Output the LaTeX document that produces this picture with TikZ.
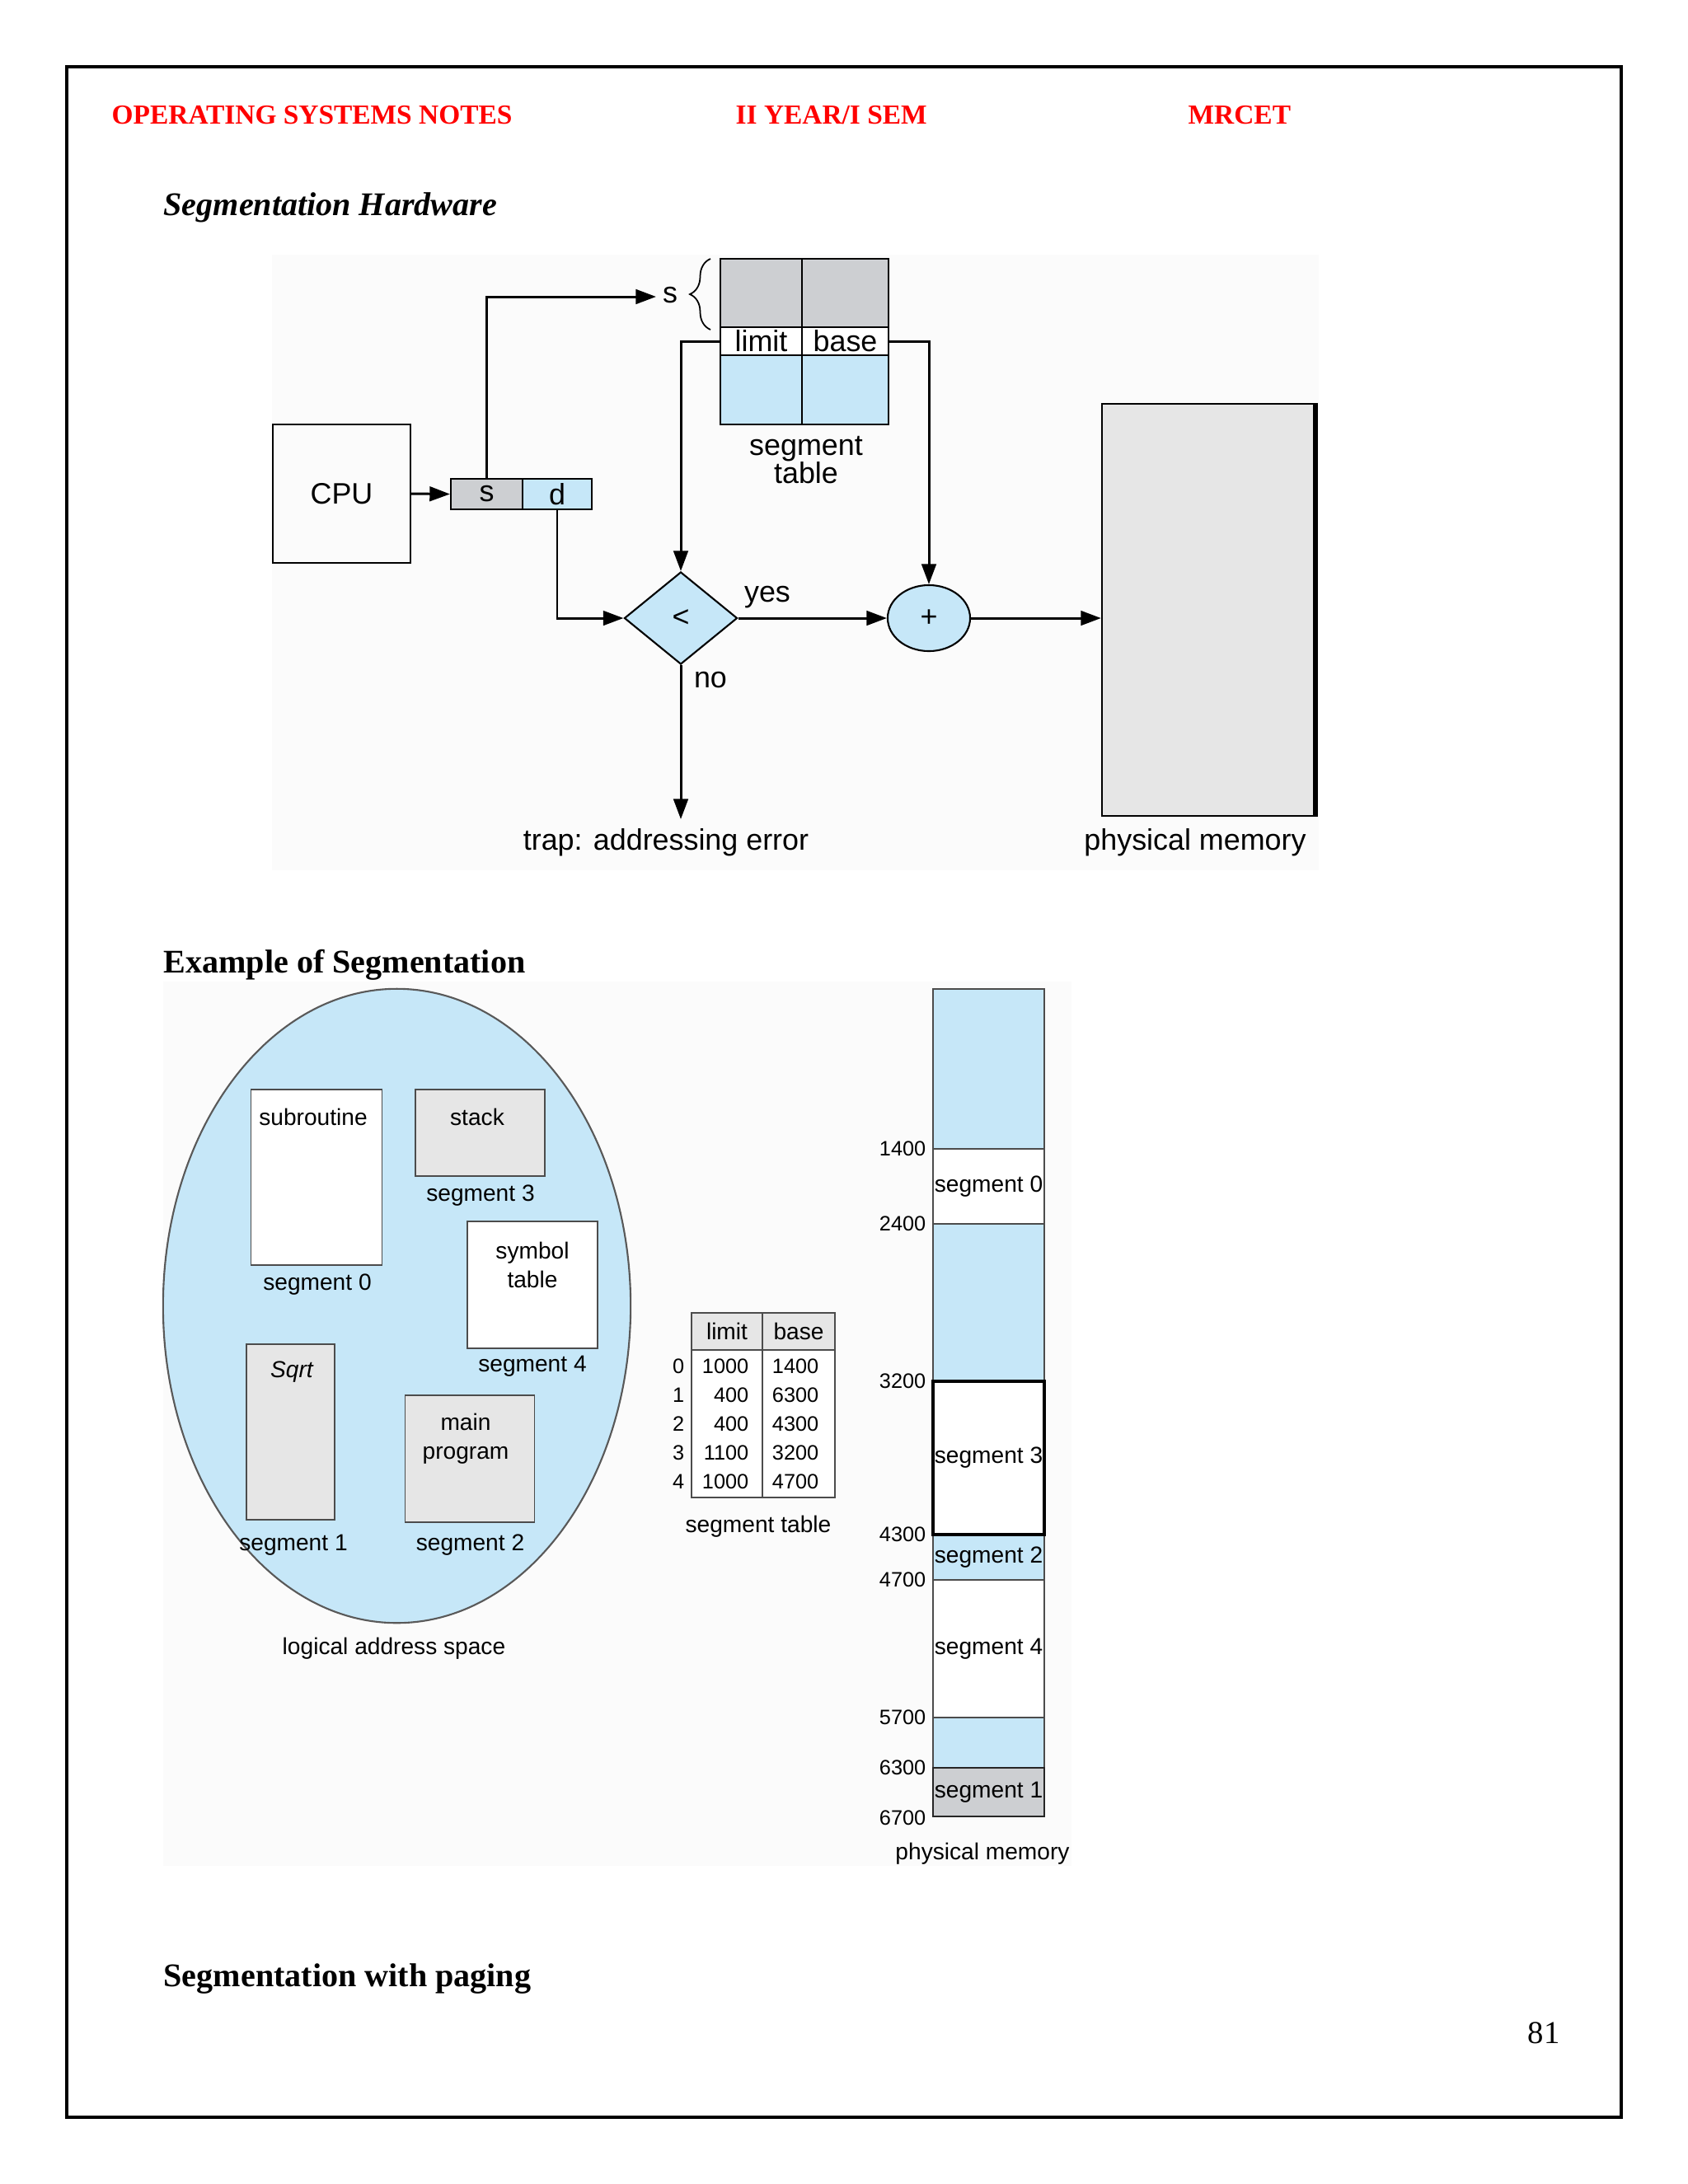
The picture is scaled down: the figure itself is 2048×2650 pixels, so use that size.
\documentclass[tikz,border=0pt]{standalone}
\usepackage{fontspec}
\setmainfont{Liberation Serif}
\newfontfamily\hv{Liberation Sans}
\usetikzlibrary{shapes.geometric,arrows.meta,decorations.pathreplacing}
\definecolor{lblue}{HTML}{C6E7F8}
\definecolor{tgray}{HTML}{CDCFD2}
\definecolor{mgray}{HTML}{E6E6E6}
\definecolor{hred}{HTML}{FF0000}
\begin{document}
\begin{tikzpicture}[x=0.01cm,y=-0.01cm,
  hdr/.style={inner sep=0,anchor=west,text=hred,font=\fontsize{9.5pt}{11pt}\selectfont\bfseries},
  head/.style={inner sep=0,anchor=west,font=\fontsize{11.4pt}{13pt}\selectfont\bfseries},
  headi/.style={inner sep=0,anchor=west,font=\fontsize{11.4pt}{13pt}\selectfont\bfseries\itshape},
  lab/.style={inner sep=0,font=\hv\fontsize{10.2pt}{9.8pt}\selectfont},
  slab/.style={inner sep=0,font=\hv\fontsize{8pt}{9.8pt}\selectfont},
  nlab/.style={inner sep=0,font=\hv\fontsize{7.2pt}{8.6pt}\selectfont},
  box/.style={draw,line width=0.6pt,inner sep=0,rectangle},
  sbox/.style={draw=black!70,line width=0.45pt,inner sep=0,rectangle},
  arr/.style={line width=0.85pt,-{Triangle[length=7pt,width=5pt]}},
]
\useasboundingbox (0,0) rectangle (2048,2650);
\fill[white] (0,0) rectangle (2048,2650);
\fill[black!1.5] (330,309) rectangle (1600,1056);
\fill[black!1.5] (198,1191) rectangle (1300,2264);
\draw[line width=0.9pt] (81,81) rectangle (1967,2569);

% header and headings
\node[hdr] (h1) at (135,140) {OPERATING SYSTEMS NOTES};
\node[hdr] (h2) at (892,140) {II YEAR/I SEM};
\node[hdr] (h3) at (1441,140) {MRCET};
\node[headi] (t1) at (198,252) {Segmentation Hardware};
\node[head] (t2) at (198,1171) {Example of Segmentation};
\node[head] (t3) at (198,2401) {Segmentation with paging};
\node[inner sep=0,font=\fontsize{11pt}{13pt}\selectfont] (pg) at (1873,2467) {81};

% ---------- segmentation hardware ----------
\node[box,lab,minimum width=1.67cm,minimum height=1.68cm] (cpu) at (414.5,599) {CPU};
\node[box,lab,fill=tgray,minimum width=0.87cm,minimum height=0.37cm] (sf) at (590.5,599.5) {s};
\node[box,lab,fill=lblue,minimum width=0.84cm,minimum height=0.37cm] (df) at (676,599.5) {d};
\draw[arr] (cpu.east) -- (sf.west);
\node[lab] (slab) at (813,358) {s};
\coordinate (sin) at (796,360);
\draw[arr] (sf.north) |- (sin);
\draw[decorate,decoration={brace,amplitude=0.25cm},line width=0.5pt] (862,400) -- (862,314);

\node[box,fill=tgray,minimum width=0.99cm,minimum height=0.83cm] (tg1) at (923.5,355.5) {};
\node[box,fill=tgray,minimum width=1.05cm,minimum height=0.83cm] (tg2) at (1025.5,355.5) {};
\node[box,lab,fill=white,minimum width=0.99cm,minimum height=0.34cm] (tlim) at (923.5,414) {limit};
\node[box,lab,fill=white,minimum width=1.05cm,minimum height=0.34cm] (tbase) at (1025.5,414) {base};
\node[box,fill=lblue,minimum width=0.99cm,minimum height=0.84cm] (tb1) at (923.5,473) {};
\node[box,fill=lblue,minimum width=1.05cm,minimum height=0.84cm] (tb2) at (1025.5,473) {};
\node[lab,align=center] (stl) at (978,558) {segment\\table};

\node[diamond,draw,line width=0.6pt,fill=lblue,minimum width=1.37cm,minimum height=1.12cm,inner sep=0,lab] (cmp) at (826,750) {<};
\draw[arr] (tlim.west) -| (cmp.north);
\draw[arr] (df.south) |- (cmp.west);
\node[ellipse,draw,line width=0.6pt,fill=lblue,minimum width=1.0cm,minimum height=0.8cm,inner sep=0,lab] (add) at (1127,750) {+};
\draw[arr] (tbase.east) -| (add.north);
\draw[arr] (cmp.east) -- (add.west);
\node[lab] (yes) at (931,725) {yes};
\node[lab] (no) at (862,825) {no};
\node[box,fill=mgray,minimum width=2.6cm,minimum height=5.0cm] (mem) at (1467,740) {};
\draw[line width=1.8pt] ([xshift=-0.6pt]mem.north east) -- ([xshift=-0.6pt]mem.south east);
\draw[arr] (add.east) -- (add.east -| mem.west);
\coordinate (trapin) at (826,994);
\draw[arr] (cmp.south) -- (trapin);
\node[lab,anchor=north] (trap) at (808,1005) {trap: addressing error};
\node[lab,anchor=north] (pm) at (1450,1005) {physical memory};

% ---------- example of segmentation ----------
\node[ellipse,draw=black!65,line width=0.6pt,fill=lblue,minimum width=5.67cm,minimum height=7.69cm,inner sep=0] (las) at (481.5,1584.5) {};
\node[sbox,fill=white,minimum width=1.59cm,minimum height=2.13cm] (b0) at (384,1428.5) {};
\node[slab] (b0t) at (380,1355) {subroutine};
\node[slab] (b0l) at (385,1559) {segment 0};
\node[sbox,fill=mgray,minimum width=1.57cm,minimum height=1.05cm] (b3) at (582.5,1374.5) {};
\node[slab] (b3t) at (579,1355) {stack};
\node[slab] (b3l) at (583,1451) {segment 3};
\node[sbox,fill=white,minimum width=1.58cm,minimum height=1.54cm] (b4) at (646,1559) {};
\node[slab,align=center] (b4t) at (646,1535) {symbol\\table};
\node[slab] (b4l) at (646,1658) {segment 4};
\node[sbox,fill=mgray,minimum width=1.07cm,minimum height=2.13cm] (b1) at (352.5,1737.5) {};
\node[slab,font=\hv\itshape\fontsize{8pt}{9.8pt}\selectfont] (b1t) at (354,1665) {Sqrt};
\node[slab] (b1l) at (356,1875) {segment 1};
\node[sbox,fill=mgray,minimum width=1.57cm,minimum height=1.54cm] (b2) at (570,1770) {};
\node[slab,align=center] (b2t) at (565,1745.5) {main\\program};
\node[slab] (b2l) at (570.5,1875) {segment 2};
\node[slab] (lasl) at (478,2000) {logical address space};

% segment table
\node[sbox,slab,fill=mgray,minimum width=0.86cm,minimum height=0.45cm] (hl) at (882,1615.5) {limit};
\node[sbox,slab,fill=mgray,minimum width=0.88cm,minimum height=0.45cm] (hb) at (969,1615.5) {base};
\node[sbox,fill=white,minimum width=0.86cm,minimum height=1.79cm] (cl) at (882,1727.5) {};
\node[sbox,fill=white,minimum width=0.88cm,minimum height=1.79cm] (cb) at (969,1727.5) {};
\foreach \i/\l/\b/\y in {0/1000/1400/1658,1/400/6300/1693,2/400/4300/1728,3/1100/3200/1763,4/1000/4700/1798}{
  \node[nlab,anchor=east] (ix\i) at (831,\y) {\i};
  \node[nlab,anchor=east] (lv\i) at (909,\y) {\l};
  \node[nlab,anchor=east] (bv\i) at (994,\y) {\b};
}
\node[slab] (stb) at (920,1852) {segment table};

% physical memory column
\node[sbox,fill=lblue,minimum width=1.35cm,minimum height=1.94cm] (r0) at (1199.5,1297) {};
\node[sbox,slab,fill=white,minimum width=1.35cm,minimum height=0.91cm] (r1) at (1199.5,1439.5) {segment 0};
\node[sbox,fill=lblue,minimum width=1.35cm,minimum height=1.91cm] (r2) at (1199.5,1580.5) {};
\node[sbox,slab,fill=lblue,minimum width=1.35cm,minimum height=0.55cm] (r4) at (1199.5,1889.5) {segment 2};
\node[sbox,slab,fill=white,minimum width=1.35cm,minimum height=1.67cm] (r5) at (1199.5,2000.5) {segment 4};
\node[sbox,fill=lblue,minimum width=1.35cm,minimum height=0.61cm] (r6) at (1199.5,2114.5) {};
\node[sbox,slab,fill=tgray,draw=black!85,line width=0.8pt,minimum width=1.35cm,minimum height=0.59cm] (r7) at (1199.5,2174.5) {segment 1};
\node[sbox,slab,fill=white,draw=black,line width=0.9pt,minimum width=1.35cm,minimum height=1.86cm] (r3) at (1199.5,1769) {segment 3};
\foreach \v/\y in {1400/1394,2400/1485,3200/1676,4300/1862,4700/1917,5700/2084,6300/2145,6700/2206}{
  \node[nlab,anchor=east] (a\v) at (1124,\y) {\v};
}
\node[slab] (pml) at (1192,2249) {physical memory};
\end{tikzpicture}
\end{document}
